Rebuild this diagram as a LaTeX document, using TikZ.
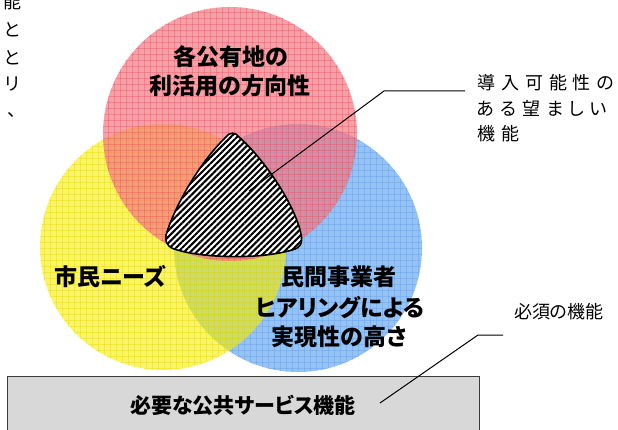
\documentclass[tikz,border=0pt]{standalone}
\usepackage{fontspec}
\setmainfont{Noto Sans CJK JP}[RawFeature=+palt]
\usetikzlibrary{patterns.meta}
\definecolor{cred}{RGB}{245,120,131}
\definecolor{credl}{RGB}{235,70,85}
\definecolor{cyel}{RGB}{247,238,0}
\definecolor{cyell}{RGB}{235,215,0}
\definecolor{cblue}{RGB}{150,195,245}
\definecolor{cbluel}{RGB}{95,155,235}
\definecolor{boxgray}{RGB}{216,216,216}
\definecolor{boxline}{RGB}{60,60,60}
\tikzset{
  big/.style={font=\fontsize{23}{26}\selectfont\bfseries, inner sep=0pt},
  boxtxt/.style={font=\fontsize{21}{24}\selectfont\bfseries},
  note/.style={font=\fontsize{18}{22}\selectfont, inner sep=0pt, anchor=west},
  spaced/.style={font=\fontsize{18}{22}\selectfont\addfontfeatures{LetterSpace=33}, inner sep=0pt, anchor=west},
  colch/.style={font=\fontsize{18}{22}\selectfont, inner sep=0pt},
  leader/.style={draw=black, line width=1pt},
  gridln/.style={line width=0.5pt},
}
\begin{document}
\begin{tikzpicture}[x=1pt,y=-1pt]
\useasboundingbox (0,0) rectangle (618,430);
% circles
\fill[cblue] (298,248) circle (124);
\begin{scope}
  \clip (298,248) circle (124);
  \foreach \k in {0,...,43} {
    \draw[gridln, cbluel, opacity=0.4] (172+6*\k,120) -- (172+6*\k,376);
    \draw[gridln, cbluel, opacity=0.4] (170,122+6*\k) -- (426,122+6*\k);
  }
\end{scope}
\fill[cyel, fill opacity=0.6] (163,247) circle (123);
\begin{scope}
  \clip (163,247) circle (123);
  \foreach \k in {0,...,43} {
    \draw[gridln, cyell, opacity=0.4] (38+6*\k,120) -- (38+6*\k,374);
    \draw[gridln, cyell, opacity=0.4] (36,122+6*\k) -- (290,122+6*\k);
  }
\end{scope}
\fill[cred, fill opacity=0.7] (230,134) circle (127);
\begin{scope}
  \clip (230,134) circle (127);
  \foreach \k in {0,...,44} {
    \draw[gridln, credl, opacity=0.35] (102+6*\k,4) -- (102+6*\k,264);
    \draw[gridln, credl, opacity=0.35] (100,6+6*\k) -- (360,6+6*\k);
  }
\end{scope}
% hatched rounded triangle
\path[fill=white] (226,137) .. controls (229,132) and (236,132) .. (239,137)
  .. controls (265,160) and (295,205) .. (301,234)
  .. controls (303,244) and (300,248) .. (292,250)
  .. controls (262,259) and (205,259) .. (174,249)
  .. controls (166,246) and (164,240) .. (167,232)
  .. controls (176,204) and (200,162) .. (226,137) -- cycle;
\draw[line width=1.6pt, pattern={Lines[angle=45, distance=4.4pt, line width=2.1pt]}]
  (226,137) .. controls (229,132) and (236,132) .. (239,137)
  .. controls (265,160) and (295,205) .. (301,234)
  .. controls (303,244) and (300,248) .. (292,250)
  .. controls (262,259) and (205,259) .. (174,249)
  .. controls (166,246) and (164,240) .. (167,232)
  .. controls (176,204) and (200,162) .. (226,137) -- cycle;
% circle labels
\node[big] (r1) at (231,57) {各公有地の};
\node[big] (r2) at (230,86) {利活用の方向性};
\node[big] (y1) at (110,277) {市民ニーズ};
\node[big] (b1) at (339,277) {民間事業者};
\node[big] (b2) at (340,308) {ヒアリングによる};
\node[big] (b3) at (339,337) {実現性の高さ};
% gray box
\node[boxtxt, draw=boxline, line width=0.9pt, fill=boxgray, minimum width=472pt, minimum height=58pt, inner sep=0pt] (box) at (243,405) {必要な公共サービス機能};
% right notes
\node[spaced] (n1) at (477,83) {導入可能性の};
\node[spaced] (n2) at (477,108) {ある望ましい};
\node[spaced] (n3) at (477,134) {機能};
\node[note] (m1) at (514,312) {必須の機能};
% leaders
\coordinate (p1) at (249,191);
\coordinate (k1) at (384,91);
\coordinate (e1) at (465,91);
\draw[leader] (p1) -- (k1) -- (e1);
\coordinate (p2) at (380,403);
\coordinate (k2) at (478,335);
\coordinate (e2) at (503,335);
\draw[leader] (p2) -- (k2) -- (e2);
% left column fragments
\node[colch] (c1) at (12,2) {能};
\node[colch] (c2) at (12,30) {と};
\node[colch] (c3) at (12,58) {と};
\node[colch] (c4) at (12,84) {リ};
\node[colch] (c5) at (12,115) {、};
\end{tikzpicture}
\end{document}
